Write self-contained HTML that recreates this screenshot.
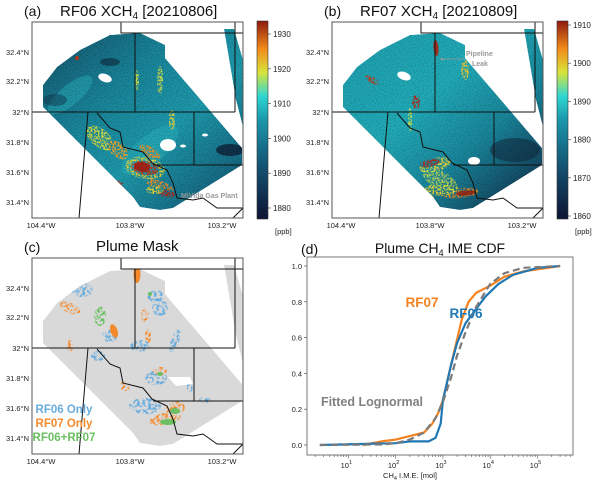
<!DOCTYPE html>
<html><head><meta charset="utf-8">
<style>
html,body{margin:0;padding:0;background:#fff;}
svg{display:block;font-family:"Liberation Sans",sans-serif;}
</style></head>
<body>
<svg id="fig" width="600" height="486" viewBox="0 0 600 486" xmlns="http://www.w3.org/2000/svg">
<defs>
 <linearGradient id="cmap" x1="0" y1="1" x2="0" y2="0">
  <stop offset="0" stop-color="#0e1433"/>
  <stop offset="0.25" stop-color="#144e6e"/>
  <stop offset="0.5" stop-color="#1a97ab"/>
  <stop offset="0.62" stop-color="#2fd6d3"/>
  <stop offset="0.74" stop-color="#d8e43a"/>
  <stop offset="0.86" stop-color="#f28b1b"/>
  <stop offset="1" stop-color="#8e1a0e"/>
 </linearGradient>
 <linearGradient id="swA" x1="0" y1="0" x2="1" y2="1">
  <stop offset="0" stop-color="#15546c"/>
  <stop offset="0.35" stop-color="#1a8aa0"/>
  <stop offset="0.6" stop-color="#1f9fb2"/>
  <stop offset="0.85" stop-color="#17708a"/>
  <stop offset="1" stop-color="#123e55"/>
 </linearGradient>
 <linearGradient id="swB" x1="0" y1="0" x2="1" y2="1">
  <stop offset="0" stop-color="#1fa2b3"/>
  <stop offset="0.4" stop-color="#22b0bd"/>
  <stop offset="0.65" stop-color="#1a8aa0"/>
  <stop offset="0.85" stop-color="#14506a"/>
  <stop offset="1" stop-color="#10324a"/>
 </linearGradient>
 <filter id="noise" x="0" y="0" width="100%" height="100%">
  <feTurbulence type="fractalNoise" baseFrequency="0.9" numOctaves="2" seed="3"/>
  <feColorMatrix type="matrix" values="0 0 0 0 0  0 0 0 0 0  0 0 0 0 0  0 0 0 1.2 -0.45"/>
 </filter>
 <filter id="speckle" x="0" y="0" width="100%" height="100%" filterUnits="userSpaceOnUse">
  <feTurbulence type="fractalNoise" baseFrequency="0.55" numOctaves="2" seed="7" result="n"/>
  <feColorMatrix in="n" type="matrix" values="0 0 0 0 0  0 0 0 0 0  0 0 0 0 0  0 0 0 4 -1.6" result="m"/>
  <feComposite in="SourceGraphic" in2="m" operator="in"/>
 </filter>
 <filter id="speckle2" x="0" y="0" width="100%" height="100%" filterUnits="userSpaceOnUse">
  <feTurbulence type="fractalNoise" baseFrequency="0.35" numOctaves="2" seed="11" result="n"/>
  <feColorMatrix in="n" type="matrix" values="0 0 0 0 0  0 0 0 0 0  0 0 0 0 0  0 0 0 5 -2.2" result="m"/>
  <feComposite in="SourceGraphic" in2="m" operator="in"/>
 </filter>
 <clipPath id="swClip"><path d="M43,85 L57,67 L80,50 L110,35 L140,33 L165,45 L165,58 L242,148 L242,165 L173,208 L160,210 L140,207 L133,197 L43,107 Z M224,29 L234,29 L243,60 L243,127 L236,100 Z"/></clipPath>
 <clipPath id="mapClip"><rect x="32" y="22" width="211" height="196"/></clipPath>
</defs>
<g id="root"></g>
</svg>
<script>
// ---- CDF data (panel d) ----
const rf06X = [2.5,100,200,500,700,900,1000,1500,2000,3000,5000,8000,15000,30000,100000,300000];
const rf06Y = [0.0,0.01,0.02,0.02,0.04,0.12,0.25,0.45,0.57,0.68,0.76,0.83,0.90,0.95,0.99,1.0];
const rf07X = [20,50,100,200,400,600,800,1000,1500,2500,3500,5000,10000,20000,50000,300000];
const rf07Y = [0.0,0.02,0.03,0.05,0.07,0.12,0.18,0.25,0.45,0.70,0.80,0.85,0.89,0.94,0.97,1.0];
const fitX = [2.5,50,100,200,400,700,1000,1500,2000,3000,5000,10000,20000,50000,300000];
const fitY = [0.0,0.003,0.01,0.03,0.07,0.15,0.24,0.38,0.50,0.63,0.77,0.90,0.96,0.99,1.0];
const yTicks = [0.0,0.2,0.4,0.6,0.8,1.0];
const xTickExp = [1,2,3,4,5];
// colorbar ticks
const cbA = [1880,1890,1900,1910,1920,1930];
const cbB = [1860,1870,1880,1890,1900,1910];
const latTicks = ["32.4°N","32.2°N","32°N","31.8°N","31.6°N","31.4°N"];
const latY = [52,81,112,142,172,202];
const lonTicks = ["104.4°W","103.8°W","103.2°W"];
const lonX = [33,122,214];

const NS="http://www.w3.org/2000/svg";
const root=document.getElementById('root');
function mk(tag,attrs,parent,text){const e=document.createElementNS(NS,tag);for(const k in attrs)e.setAttribute(k,attrs[k]);if(text!==undefined)e.textContent=text;(parent||root).appendChild(e);return e;}

const swathD="M43,85 L57,67 L80,50 L110,35 L140,33 L165,45 L165,58 L242,148 L242,165 L173,208 L160,210 L140,207 L133,197 L43,107 Z M224,29 L234,29 L243,60 L243,127 L236,100 Z";
const bordersD="M32,112 L235,112 M235,22 L235,112 M121,22 L121,33 L243,33 M135,33 L135,112 M194,112 L194,165 M153,165 L243,165 M97,113 L110,128 L120,132 L123,147 L143,152 L152,163 L167,170 L173,183 L177,198 L193,200 L203,198 L217,208 L243,208 M88,112 L79,218 M233,218 L243,208";

function mapFrame(g,name){
  const f=mk('rect',{x:32,y:22,width:211,height:196,fill:'none',stroke:'#555','stroke-width':1},g);
  
  latTicks.forEach((t,i)=>{const e=mk('text',{x:29,y:latY[i]+3,'font-size':7.5,'text-anchor':'end',fill:'#222'},g,t);
    });
  lonTicks.forEach((t,i)=>{const e=mk('text',{x:lonX[i]+8,y:228,'font-size':7.5,'text-anchor':'middle',fill:'#222'},g,t);
    });
}
function borders(g){const b=mk('path',{d:bordersD,fill:'none',stroke:'#111','stroke-width':1},g);
  }

function hot(g,spots){spots.forEach(s=>{mk('ellipse',{cx:s[0],cy:s[1],rx:s[2],ry:s[3],fill:s[4],opacity:s[5]||0.85,transform:`rotate(${s[6]||0} ${s[0]} ${s[1]})`},g);});}

function colorbar(g,ticks,bottomY,pxPer,name){
  const cb=mk('rect',{x:257,y:21,width:11,height:198,fill:'url(#cmap)',stroke:'#333','stroke-width':0.6},g);
  
  ticks.forEach((v,i)=>{const y=bottomY-(v-ticks[0])*pxPer;
    mk('line',{x1:268,x2:271,y1:y,y2:y,stroke:'#333','stroke-width':0.6},g);
    const t=mk('text',{x:273,y:y+3,'font-size':8,fill:'#222'},g,v);
    });
  const u=mk('text',{x:275,y:234,'font-size':7.5,fill:'#222'},g,'[ppb]');
  
}

// ---------- Panel A ----------
const gA=mk('g',{});
mk('text',{x:24,y:16,'font-size':14,fill:'#111'},gA,'(a)');
const tA=mk('text',{x:60,y:16,'font-size':15,fill:'#111'},gA);tA.innerHTML='RF06 XCH<tspan font-size="10" dy="3">4</tspan><tspan dy="-3"> [20210806]</tspan>';

const cA=mk('g',{'clip-path':'url(#mapClip)'},gA);
const sA=mk('g',{'clip-path':'url(#swClip)'},cA);
mk('path',{d:swathD,fill:'url(#swA)'},sA);
hot(sA,[[70,95,28,10,'#2ab5c2',0.5,-40],[150,150,35,14,'#29b8c3',0.5,-40],[230,150,14,6,'#0f2238',0.8,0],[55,100,12,6,'#123a52',0.5,0],[110,62,10,4,'#0f2a40',0.6,0]]);
mk('rect',{x:0,y:0,width:260,height:230,filter:'url(#noise)',fill:'#000',opacity:0.5},sA);
const hA=mk('g',{filter:'url(#speckle)'},sA);
hot(hA,[[100,138,16,9,'#d8d838',1,40],[118,150,12,7,'#f0a020',1,40],[145,168,20,11,'#e8d030',1,10],[145,168,14,7,'#c0300e',1,10],[150,152,12,5,'#f08a1a',1,30],[160,186,14,5,'#f08a1a',1,20],[165,193,10,4,'#b0200e',1,10],[155,190,9,4,'#e8d030',1,0],[118,185,5,5,'#b0200e',1],[172,120,3,10,'#e8d030',1],[160,80,3,14,'#d8e040',1],[137,80,2,10,'#d8e040',1]]);
const hA2=mk('g',{},sA);
hot(hA2,[[142,167,8,5,'#a01c0e',0.9,10],[77,58,2,2,'#c03010',0.9]]);
hot(sA,[[105,78,7,4,'#fff',1,20],[168,145,8,6,'#fff',1,0],[183,146,3,1.5,'#fff',1],[205,135,3,1.5,'#fff',1]]);
borders(cA);
mk('text',{x:181,y:198,'font-size':7,fill:'#999','font-weight':'bold'},gA,'MiVida Gas Plant');
mapFrame(gA,'panel-a-map');
colorbar(gA,cbA,208,3.48,'panel-a-colorbar');

// ---------- Panel B ----------
const gB=mk('g',{transform:'translate(300,0)'});
mk('text',{x:24,y:16,'font-size':14,fill:'#111'},gB,'(b)');
const tB=mk('text',{x:60,y:16,'font-size':15,fill:'#111'},gB);tB.innerHTML='RF07 XCH<tspan font-size="10" dy="3">4</tspan><tspan dy="-3"> [20210809]</tspan>';

const cB=mk('g',{'clip-path':'url(#mapClip)'},gB);
const sB=mk('g',{'clip-path':'url(#swClip)'},cB);
mk('path',{d:swathD,fill:'url(#swB)'},sB);
hot(sB,[[215,150,25,12,'#0f2238',0.5,0]]);
mk('rect',{x:0,y:0,width:260,height:230,filter:'url(#noise)',fill:'#000',opacity:0.45},sB);
const hB=mk('g',{filter:'url(#speckle)'},sB);
hot(hB,[[165,70,4,10,'#e8c030',1],[72,80,8,3,'#c03010',1,30],[116,102,4,7,'#b0200e',1],[135,165,16,7,'#e8d030',1,-15],[130,163,10,4,'#b0200e',1,-15],[160,193,19,5,'#f08a1a',1,-5],[140,190,16,6,'#e8d030',1,0],[140,180,20,9,'#d8e040',0.8,30],[125,198,9,4,'#e8d030',1],[110,120,2,12,'#d8e040',1]]);
hot(sB,[[136,48,2.5,8,'#b0200e',0.9,-5],[166,193,10,2.5,'#8e1a0e',0.8,-5]]);
hot(sB,[[104,76,7,4,'#fff',1,20],[174,161,6,4,'#fff',1,0]]);
borders(cB);
mk('line',{x1:142,y1:59,x2:165,y2:59,stroke:'#999','stroke-width':0.8},gB);
mk('circle',{cx:142,cy:59,r:1.3,fill:'#999'},gB);
mk('text',{x:166,y:56,'font-size':7,fill:'#999','font-weight':'bold'},gB,'Pipeline');
mk('text',{x:172,y:66,'font-size':7,fill:'#999','font-weight':'bold'},gB,'Leak');
mapFrame(gB,'panel-b-map');
colorbar(gB,cbB,216,3.82,'panel-b-colorbar');

// ---------- Panel C ----------
const gC=mk('g',{transform:'translate(0,236)'});
mk('text',{x:24,y:16,'font-size':14,fill:'#111'},gC,'(c)');
mk('text',{x:96,y:15,'font-size':15,fill:'#111'},gC,'Plume Mask');
const cC=mk('g',{'clip-path':'url(#mapClip)'},gC);
const sC=mk('g',{'clip-path':'url(#swClip)'},cC);
mk('path',{d:swathD,fill:'#d9d9d9'},sC);
const B='#68acde',O='#f58a2c',G='#6cbf62';
const hC=mk('g',{filter:'url(#speckle2)'},sC);
hot(hC,[[82,54,11,7,B,1],[70,72,11,5,O,1,25],[145,170,16,8,B,1],[175,173,10,7,O,1,-20],[165,183,16,6,O,1,-10],[156,142,11,7,B,1],[160,135,7,4,O,1],[175,105,4,12,B,1,20],[98,120,7,5,B,1],[70,110,3,6,O,1],[155,60,9,6,B,1],[160,72,8,8,B,1],[145,80,4,7,O,1],[148,100,3,8,O,1],[125,150,5,5,O,1],[190,150,3,6,B,1],[205,164,6,3,B,1],[110,100,8,6,B,1],[140,110,10,6,B,1],[100,80,6,10,G,1]]);
hot(sC,[[137,38,3.5,9,O,1],[114,95,3.5,7,O,1,-20],[168,186,8,3,G,1],[175,175,5,3,G,1],[160,138,3,2,G,1],[150,58,2,2,G,1]]);
mk('path',{d:'M168,141 L190,141 L193,148 L176,150 Z',fill:'#fff'},sC);
borders(cC);
mapFrame(gC,'panel-c-map');
[['RF06 Only',B,177],['RF07 Only',O,191],['RF06+RF07',G,205]].forEach(l=>{const e=mk('text',{x:64,y:l[2],'font-size':11.5,'font-weight':'bold','text-anchor':'middle',fill:l[1]},gC,l[0]);
  });

// ---------- Panel D ----------
const gD=mk('g',{});
const pL=307,pR=573,pT=257,pB=455,y0px=445,y1px=266,dec0=301,decW=47.3;
const xs=v=>dec0+Math.log10(v)*decW;
const ys=v=>y0px+(y1px-y0px)*v;
mk('text',{x:301,y:254,'font-size':14,fill:'#111'},gD,'(d)');
const tD=mk('text',{x:440,y:253,'font-size':14,'text-anchor':'middle',fill:'#111'},gD);
tD.innerHTML='Plume CH<tspan font-size="9" dy="3">4</tspan><tspan dy="-3"> IME CDF</tspan>';

const fr=mk('rect',{x:pL,y:pT,width:pR-pL,height:pB-pT,fill:'none',stroke:'#777','stroke-width':1},gD);

yTicks.forEach(v=>{const y=ys(v);mk('line',{x1:pL-3,x2:pL,y1:y,y2:y,stroke:'#555','stroke-width':0.7},gD);
  const t=mk('text',{x:pL-5,y:y+3,'font-size':7.5,'text-anchor':'end',fill:'#222'},gD,v.toFixed(1));
  });
for(let e=0;e<=5;e++){for(let m=1;m<10;m++){const v=m*Math.pow(10,e);const x=xs(v);if(x<pL||x>pR)continue;
  mk('line',{x1:x,x2:x,y1:pB,y2:pB+(m===1?3.5:2),stroke:'#555','stroke-width':0.6},gD);}}
xTickExp.forEach(e=>{const x=xs(Math.pow(10,e));
  const t=mk('text',{x:x-2,y:pB+13,'font-size':7.5,'text-anchor':'middle',fill:'#222'},gD);
  t.innerHTML='10<tspan font-size="5.5" dy="-4">'+e+'</tspan>';
  });
const xl=mk('text',{x:410,y:478,'font-size':7.5,'text-anchor':'middle',fill:'#222'},gD);
xl.innerHTML='CH<tspan font-size="5.5" dy="2">4</tspan><tspan dy="-2"> I.M.E. [mol]</tspan>';

function line(X,Y,color,dash,name){const d=X.map((v,i)=>(i?'L':'M')+xs(v).toFixed(1)+','+ys(Y[i]).toFixed(1)).join(' ');
  const p=mk('path',{d:d,fill:'none',stroke:color,'stroke-width':2.2,'stroke-dasharray':dash||'none','stroke-linejoin':'round'},gD);
  }
line(rf07X,rf07Y,'#f5821f',null,'rf07-cdf-line');
line(rf06X,rf06Y,'#1f77b4',null,'rf06-cdf-line');
line(fitX,fitY,'#7a7a7a','7,4','fitted-lognormal-line');
[['RF07','#f5821f',422,307],['RF06','#1f77b4',466,318],['Fitted Lognormal','#808080',372,406]].forEach(l=>{
  const e=mk('text',{x:l[2],y:l[3],'font-size':l[0].length>5?12.5:13.5,'font-weight':'bold','text-anchor':'middle',fill:l[1]},gD,l[0]);
  });
</script>
</body></html>
